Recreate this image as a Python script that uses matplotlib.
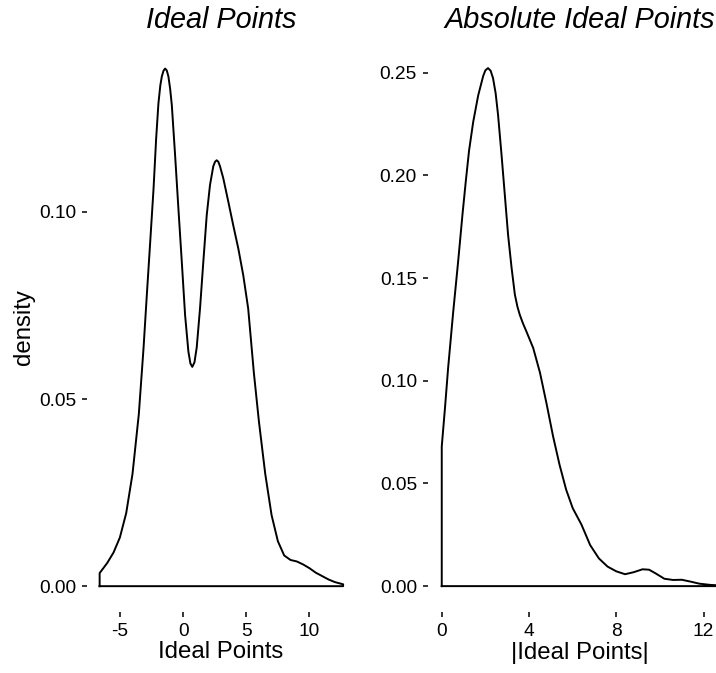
import numpy as np
import matplotlib
matplotlib.use("Agg")
import matplotlib.pyplot as plt

plt.rcParams['font.family'] = ['Liberation Sans', 'DejaVu Sans']
plt.rcParams['axes.unicode_minus'] = False

# density of ideal points
x_ideal = [-6.6, -6.0, -5.5, -5.0, -4.5, -4.0, -3.5, -3.13, -2.87, -2.6, -2.34, -2.13,
           -1.95, -1.8, -1.68, -1.55, -1.42, -1.29, -1.16, -1.02, -0.89, -0.63, -0.37,
           -0.1, 0.16, 0.42, 0.58, 0.73, 0.9, 1.08, 1.34, 1.6, 1.87, 2.13, 2.39, 2.53,
           2.66, 2.79, 2.92, 3.18, 3.58, 3.97, 4.37, 4.76, 5.15, 5.6, 6.0, 6.5, 7.0,
           7.5, 8.0, 8.5, 9.0, 9.5, 10.0, 10.5, 11.0, 11.5, 12.0, 12.66]
dens_ideal = [0.0035, 0.0062, 0.0090, 0.0130, 0.0195, 0.030, 0.046, 0.0635, 0.0777,
              0.092, 0.106, 0.1196, 0.129, 0.1338, 0.1362, 0.1377, 0.1383, 0.1378,
              0.1362, 0.1328, 0.1285, 0.1151, 0.1009, 0.0866, 0.0724, 0.0627, 0.0595,
              0.0586, 0.0598, 0.0638, 0.0742, 0.0866, 0.0991, 0.1072, 0.1122, 0.1134,
              0.1138, 0.1134, 0.1122, 0.109, 0.1027, 0.0964, 0.0902, 0.0831, 0.0742,
              0.057, 0.044, 0.030, 0.019, 0.012, 0.0082, 0.0070, 0.0066, 0.0058, 0.0048,
              0.0036, 0.0027, 0.0018, 0.0011, 0.0005]

# density of absolute ideal points
x_abs = [0.0, 0.15, 0.29, 0.52, 0.75, 0.95, 1.1, 1.25, 1.44, 1.67, 1.9, 2.0, 2.12,
         2.24, 2.35, 2.47, 2.58, 2.74, 2.89, 3.04, 3.2, 3.35, 3.47, 3.58, 3.72, 3.88,
         4.19, 4.5, 4.8, 5.1, 5.4, 5.7, 6.0, 6.4, 6.8, 7.2, 7.6, 8.0, 8.4, 8.8, 9.2,
         9.5, 9.8, 10.2, 10.6, 11.0, 11.4, 11.8, 12.3, 12.66]
dens_abs = [0.068, 0.087, 0.106, 0.133, 0.158, 0.181, 0.197, 0.212, 0.226, 0.239,
            0.2485, 0.2512, 0.2523, 0.251, 0.2474, 0.240, 0.2295, 0.210, 0.1905, 0.171,
            0.155, 0.142, 0.136, 0.132, 0.128, 0.124, 0.116, 0.104, 0.089, 0.073,
            0.059, 0.047, 0.038, 0.030, 0.020, 0.0135, 0.0095, 0.0072, 0.0058, 0.0068,
            0.0082, 0.0080, 0.0062, 0.0036, 0.0030, 0.0031, 0.0022, 0.0012, 0.0006,
            0.0004]

ideal_xticks = [-5, 0, 5, 10]
ideal_yticks = [0.00, 0.05, 0.10]
abs_xticks = [0, 4, 8, 12]
abs_yticks = [0.00, 0.05, 0.10, 0.15, 0.20, 0.25]


def density_outline(ax, x, y):
    # closed outline like old geom_density
    x = np.asarray(x)
    y = np.asarray(y)
    xs = np.concatenate([[x[0]], x, [x[-1], x[0]]])
    ys = np.concatenate([[0], y, [0, 0]])
    ax.plot(xs, ys, color='black', lw=1.4, solid_joinstyle='round')


def style(ax, title, xlabel, ylabel, xticks, yticks):
    for s in ax.spines.values():
        s.set_visible(False)
    ax.set_title(title, fontsize=20.8, fontstyle='italic', pad=10)
    ax.set_xlabel(xlabel, fontsize=17.3, labelpad=1)
    ax.set_ylabel(ylabel, fontsize=17.3, labelpad=3)
    ax.set_xticks(xticks)
    ax.set_xticklabels([str(t) for t in xticks])
    ax.set_yticks(yticks)
    ax.set_yticklabels([f"{t:.2f}" for t in yticks])
    ax.tick_params(length=3.5, width=1.1, pad=4.5, labelsize=13.8, colors='black')


fig = plt.figure(figsize=(7.16, 6.73), dpi=100)
ax1 = fig.add_axes([87 / 716, 61 / 673, 268 / 716, 570 / 673])
ax2 = fig.add_axes([428 / 716, 61 / 673, 304 / 716, 570 / 673])

density_outline(ax1, x_ideal, dens_ideal)
ax1.set_xlim(-7.6, 13.6)
ax1.set_ylim(-0.0069, 0.1454)
style(ax1, "Ideal Points", "Ideal Points", "density", ideal_xticks, ideal_yticks)

density_outline(ax2, x_abs, dens_abs)
ax2.set_xlim(-0.63, 13.3)
ax2.set_ylim(-0.0126, 0.265)
style(ax2, "Absolute Ideal Points", "|Ideal Points|", "", abs_xticks, abs_yticks)

fig.savefig("out.png", dpi=100)
